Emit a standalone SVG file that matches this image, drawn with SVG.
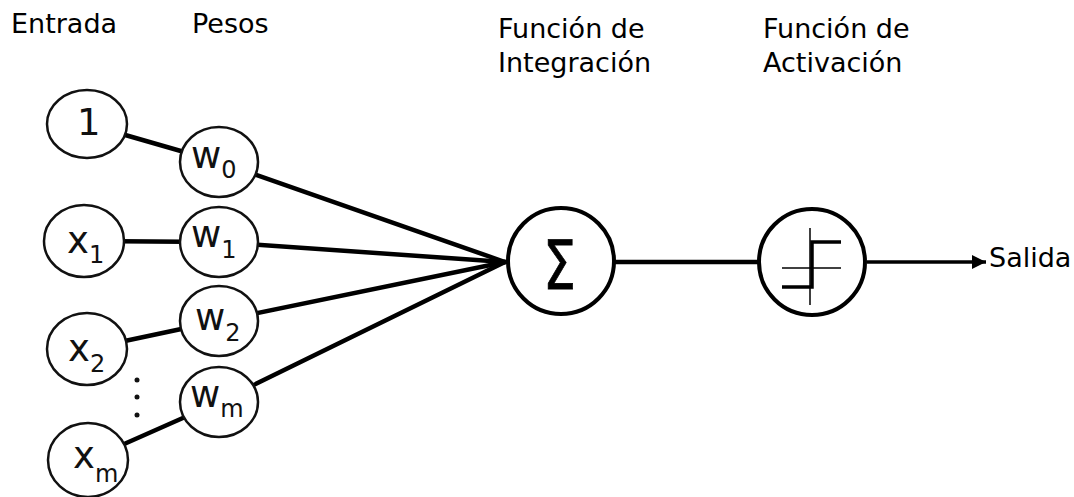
<svg xmlns="http://www.w3.org/2000/svg" width="1074" height="497" viewBox="0 0 1074 497">
  <defs>
    <marker id="arrow" viewBox="0 0 14 14" refX="14" refY="7" markerWidth="14" markerHeight="14" markerUnits="userSpaceOnUse" orient="auto">
      <path d="M0,0 L14,7 L0,14 Z" fill="#000"/>
    </marker>
  </defs>
  <style>
    .hdr { font-family: "DejaVu Sans", "Liberation Sans", sans-serif; font-size: 27px; fill: #000; }
    .lbl { font-family: "DejaVu Sans", "Liberation Sans", sans-serif; font-size: 37px; fill: #111; }
    .sub { font-size: 24px; }
    .small { fill: #fff; stroke: #111; stroke-width: 2.5; }
    .big { fill: #fff; stroke: #000; stroke-width: 4; }
    .edge { stroke: #000; stroke-width: 4.5; fill: none; stroke-linecap: round; }
  </style>
  <rect width="1074" height="497" fill="#fff"/>

  <!-- column headings -->
  <g id="headers">
    <text class="hdr" x="11" y="33">Entrada</text>
    <text class="hdr" x="192" y="33">Pesos</text>
    <text class="hdr" x="498" y="38">Función de</text>
    <text class="hdr" x="498" y="72">Integración</text>
    <text class="hdr" x="763" y="38">Función de</text>
    <text class="hdr" x="763" y="72">Activación</text>
  </g>

  <!-- connectors -->
  <g id="connectors">
    <line class="edge" x1="87" y1="124" x2="219" y2="162"/>
    <line class="edge" x1="84" y1="241" x2="219" y2="242"/>
    <line class="edge" x1="87" y1="349" x2="219" y2="321"/>
    <line class="edge" x1="88" y1="460" x2="219" y2="402"/>
    <line class="edge" x1="219" y1="162" x2="505" y2="262"/>
    <line class="edge" x1="219" y1="242" x2="505" y2="262"/>
    <line class="edge" x1="219" y1="321" x2="505" y2="262"/>
    <line class="edge" x1="219" y1="402" x2="505" y2="262"/>
    <line class="edge" x1="615" y1="262" x2="758" y2="262"/>
    <line x1="867" y1="262" x2="986" y2="262" stroke="#000" stroke-width="3.5" marker-end="url(#arrow)"/>
  </g>

  <!-- inputs -->
  <g id="in-1">
    <ellipse class="small" cx="87" cy="124" rx="40" ry="34"/>
    <text class="lbl" x="77" y="135">1</text>
  </g>
  <g id="in-x1">
    <ellipse class="small" cx="84" cy="241" rx="40" ry="36"/>
    <text class="lbl" x="67" y="253">x<tspan class="sub" y="263">1</tspan></text>
  </g>
  <g id="in-x2">
    <ellipse class="small" cx="87" cy="349" rx="40" ry="36"/>
    <text class="lbl" x="68" y="361">x<tspan class="sub" y="372">2</tspan></text>
  </g>
  <g id="in-xm">
    <ellipse class="small" cx="88" cy="460" rx="40" ry="37"/>
    <text class="lbl" x="73" y="468">x<tspan class="sub" y="482">m</tspan></text>
  </g>
  <g id="dots" fill="#111">
    <circle cx="137" cy="380" r="2.5"/>
    <circle cx="137" cy="397" r="2.5"/>
    <circle cx="137" cy="415" r="2.5"/>
  </g>

  <!-- weights -->
  <g id="w-0">
    <ellipse class="small" cx="219" cy="162" rx="39" ry="35"/>
    <text class="lbl" x="191" y="168">w<tspan class="sub" y="178">0</tspan></text>
  </g>
  <g id="w-1">
    <ellipse class="small" cx="219" cy="242" rx="39" ry="35"/>
    <text class="lbl" x="191" y="247">w<tspan class="sub" y="258">1</tspan></text>
  </g>
  <g id="w-2">
    <ellipse class="small" cx="219" cy="321" rx="39" ry="35"/>
    <text class="lbl" x="195" y="330">w<tspan class="sub" y="341">2</tspan></text>
  </g>
  <g id="w-m">
    <ellipse class="small" cx="219" cy="402" rx="39" ry="35"/>
    <text class="lbl" x="190" y="407">w<tspan class="sub" y="417">m</tspan></text>
  </g>

  <!-- integration (sum) -->
  <g id="sum">
    <circle class="big" cx="561" cy="261" r="53"/>
    <text x="543" y="289" font-family="DejaVu Sans, sans-serif" font-size="68" stroke="#000" stroke-width="0.8" textLength="33" lengthAdjust="spacingAndGlyphs">Σ</text>
  </g>

  <!-- activation (step) -->
  <g id="activation">
    <circle class="big" cx="812" cy="262" r="53"/>
    <path d="M782,287 H812 V242 H841" fill="none" stroke="#000" stroke-width="3.5"/>
    <line x1="810" y1="228" x2="810" y2="305" stroke="#000" stroke-width="1.5"/>
    <line x1="782" y1="268" x2="841" y2="268" stroke="#000" stroke-width="1.5"/>
  </g>

  <g id="output">
    <text class="hdr" x="989" y="267">Salida</text>
  </g>
</svg>
